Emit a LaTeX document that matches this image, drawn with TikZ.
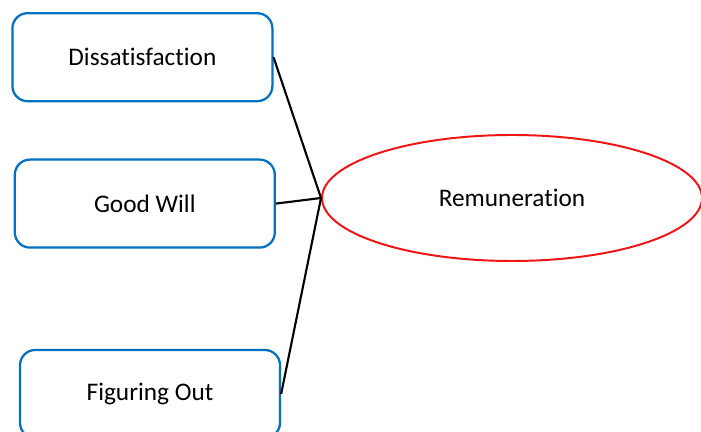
\documentclass[tikz,border=0pt]{standalone}
\usepackage{fontspec}
\setmainfont[Ligatures=NoCommon]{Carlito}
\usepackage{tikz}
\usetikzlibrary{shapes.geometric}
\definecolor{boxblue}{RGB}{0,112,192}
\definecolor{ovalred}{RGB}{240,20,20}

\begin{document}
\begin{tikzpicture}[
    every node/.style={font=\fontsize{18}{22}\selectfont},
    factor/.style={rectangle, draw=boxblue, fill=white, line width=1.6pt, minimum width=6.5cm, minimum height=2.2cm, rounded corners=0.38cm},
    outcome/.style={ellipse, draw=ovalred, fill=white, line width=1.4pt, minimum width=9.5cm, minimum height=3.15cm},
    link/.style={black, line width=1.5pt}
]
\clip (0,0) rectangle (17.525,10.8);

% Factors
\node[factor] (dissat) at (3.56,9.37) {Dissatisfaction};
\node[factor] (goodwill) at (3.62,5.71) {Good Will};
\node[factor] (figuring) at (3.75,0.95) {Figuring Out};

% Outcome
\node[outcome] (remun) at (12.8,5.85) {Remuneration};

% Links
\draw[link] (dissat.east) -- (remun.west);
\draw[link] (goodwill.east) -- (remun.west);
\draw[link] (figuring.east) -- (remun.west);

\end{tikzpicture}
\end{document}
